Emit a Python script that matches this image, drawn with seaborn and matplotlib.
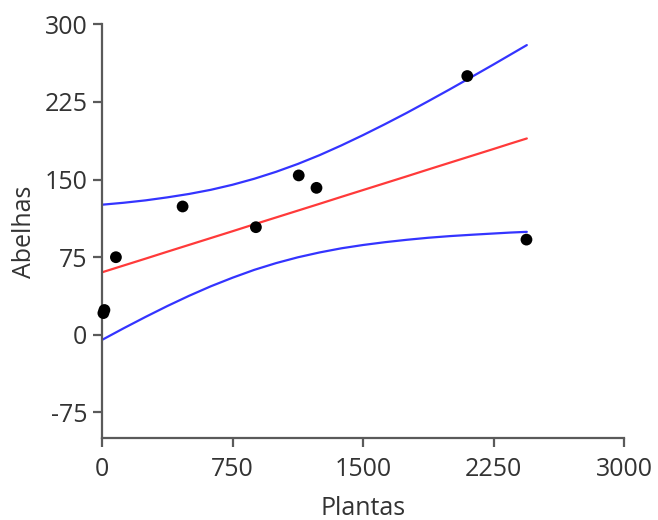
import matplotlib
matplotlib.use("Agg")
import matplotlib.pyplot as plt
import seaborn as sns
import pandas as pd

# Observed points
plantas = [8, 14, 80, 463, 884, 1130, 1232, 2098, 2438]
abelhas = [21, 24, 75, 124, 104, 154, 142, 250, 92]

# Fitted line and 95% confidence band
curve_x = [0, 125, 250, 375, 500, 625, 750, 875, 1000, 1125, 1250, 1375,
           1500, 1625, 1750, 1875, 2000, 2125, 2250, 2345, 2440]
fit_y = [60.4, 67.0, 73.6, 80.3, 86.9, 93.5, 100.1, 106.8, 113.4, 120.0, 126.6,
         133.3, 139.9, 146.5, 153.1, 159.8, 166.4, 173.0, 179.6, 184.7, 189.7]
upper_y = [125.7, 127.6, 129.9, 132.8, 136.1, 140.1, 145.0, 150.8, 157.5, 165.1,
           173.6, 183.0, 193.0, 203.5, 214.4, 225.8, 237.4, 249.3, 261.3, 270.6, 279.9]
lower_y = [-4.9, 6.4, 17.3, 27.8, 37.7, 46.9, 55.2, 62.8, 69.3, 74.9, 79.6,
           83.6, 86.8, 89.5, 91.8, 93.8, 95.4, 96.7, 97.9, 98.8, 99.5]

x_ticks = [0, 750, 1500, 2250, 3000]
y_ticks = [-75, 0, 75, 150, 225, 300]

sns.set_theme(style="ticks")
plt.rcParams["font.family"] = ["Open Sans", "DejaVu Sans"]

fig = plt.figure(figsize=(6.58, 5.2), dpi=100)
ax = fig.add_axes([0.155, 0.157, 0.7938, 0.7963])

pts = pd.DataFrame({"Plantas": plantas, "Abelhas": abelhas})
curves = pd.DataFrame({"x": curve_x, "fit": fit_y, "up": upper_y, "lo": lower_y})

sns.lineplot(data=curves, x="x", y="up", ax=ax, color="#3434ff", lw=1.6,
             estimator=None, sort=False)
sns.lineplot(data=curves, x="x", y="lo", ax=ax, color="#3434ff", lw=1.6,
             estimator=None, sort=False)
sns.lineplot(data=curves, x="x", y="fit", ax=ax, color="#ff3a3a", lw=1.6,
             estimator=None, sort=False)
sns.scatterplot(data=pts, x="Plantas", y="Abelhas", ax=ax, color="black",
                s=72, edgecolor="none", zorder=5, clip_on=False)

ax.set_xlim(0, 3000)
ax.set_ylim(-100, 300)
ax.set_xticks(x_ticks)
ax.set_yticks(y_ticks)
ax.set_xticklabels([str(v) for v in x_ticks])
ax.set_yticklabels([str(v) for v in y_ticks])

for side in ["top", "right"]:
    ax.spines[side].set_visible(False)
for side in ["left", "bottom"]:
    ax.spines[side].set_color("#5a5a5a")
    ax.spines[side].set_linewidth(1.6)

ax.tick_params(axis="both", direction="out", length=6.5, width=1.6,
               color="#5a5a5a", labelsize=18, labelcolor="#333333")
ax.tick_params(axis="x", pad=7)
ax.tick_params(axis="y", pad=4)

ax.set_xlabel("Plantas", fontsize=18, color="#333333", labelpad=10)
ax.set_ylabel("Abelhas", fontsize=18, color="#333333", labelpad=5)

fig.savefig("out.png", dpi=100)
